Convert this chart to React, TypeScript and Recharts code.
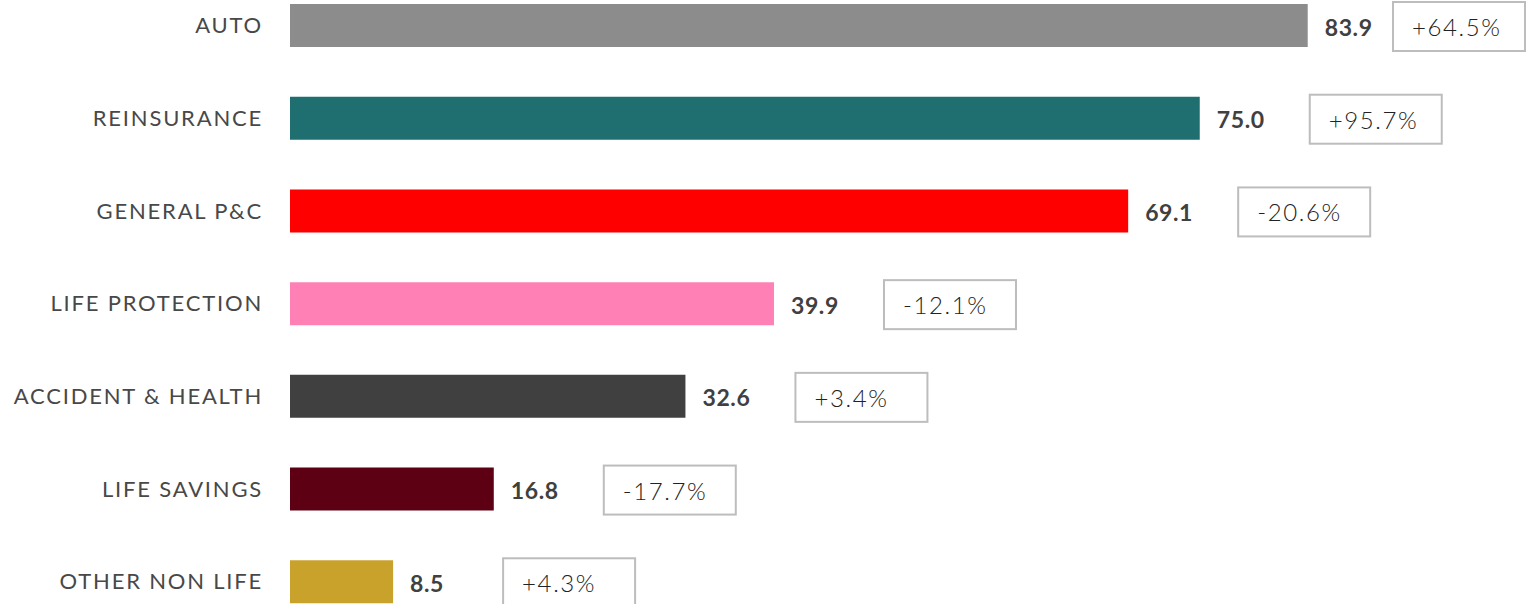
import { BarChart, Bar, XAxis, YAxis, Cell, LabelList } from 'recharts';

const categories = [
  'AUTO',
  'REINSURANCE',
  'GENERAL P&C',
  'LIFE PROTECTION',
  'ACCIDENT & HEALTH',
  'LIFE SAVINGS',
  'OTHER NON LIFE',
];
const values = [83.9, 75.0, 69.1, 39.9, 32.6, 16.8, 8.5];
const changes = ['+64.5%', '+95.7%', '-20.6%', '-12.1%', '+3.4%', '-17.7%', '+4.3%'];
const barColors = ['#8c8c8c', '#1f6f70', '#ff0000', '#ff80b5', '#404040', '#5e0014', '#c9a22b'];

const rows = categories.map((name, i) => ({ name, value: values[i], change: changes[i] }));

const CHART_W = 1538;
const BOX_W = 132;
const BOX_H = 49;

const renderValue = (props: any) => {
  const { x, y, width, height, value } = props;
  return (
    <text
      x={x + width + 17}
      y={y + height / 2 + 1}
      dominantBaseline="central"
      fontFamily="Lato"
      fontWeight={700}
      fontSize={23}
      letterSpacing={0.6}
      fill="#404040"
    >
      {Number(value).toFixed(1)}
    </text>
  );
};

const renderBox = (props: any) => {
  const { x, y, width, height, value } = props;
  const bx = Math.min(x + width + 110, CHART_W - BOX_W - 13);
  const cy = y + height / 2 + 1;
  return (
    <g>
      <rect x={bx} y={cy - BOX_H / 2} width={BOX_W} height={BOX_H} fill="#fff" stroke="#bdbdbd" strokeWidth={2} />
      <text
        x={bx + 19}
        y={cy}
        dominantBaseline="central"
        fontFamily="Lato"
        fontWeight={300}
        fontSize={24}
        letterSpacing={1.6}
        fill="#222"
      >
        {value}
      </text>
    </g>
  );
};

export default function App() {
  return (
    <div style={{ position: 'absolute', top: 0, left: 0, width: CHART_W, height: 604, overflow: 'hidden', background: '#fff' }}>
      <div style={{ position: 'absolute', top: -21, left: 0 }}>
        <BarChart
          width={CHART_W}
          height={649}
          data={rows}
          layout="vertical"
          margin={{ top: 0, right: 35, bottom: 0, left: 0 }}
        >
          <XAxis type="number" domain={[0, 100]} hide />
          <YAxis
            type="category"
            dataKey="name"
            width={290}
            axisLine={false}
            tickLine={false}
            tickSize={0}
            tickMargin={27}
            interval={0}
            tick={{ fill: '#484848', fontSize: 22, fontFamily: 'Lato', fontWeight: 400, letterSpacing: 1.8 }}
          />
          <Bar dataKey="value" barSize={43} isAnimationActive={false}>
            {rows.map((r, i) => (
              <Cell key={r.name} fill={barColors[i]} />
            ))}
            <LabelList dataKey="value" content={renderValue} />
            <LabelList dataKey="change" content={renderBox} />
          </Bar>
        </BarChart>
      </div>
    </div>
  );
}
